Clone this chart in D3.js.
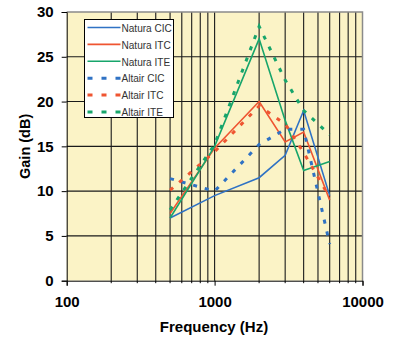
<!DOCTYPE html>
<html>
<head>
<meta charset="utf-8">
<style>
  body { margin: 0; background: #fff; }
  svg { display: block; font-family: "Liberation Sans", Arial, sans-serif; }
</style>
</head>
<body>
<svg id="chart" width="399" height="337"></svg>
<script src="https://d3js.org/d3.v7.min.js"></script>
<script>
// frequencies (Hz) and gain (dB)
const freqs = [500, 1000, 2000, 3000, 4000, 6000];
const naturaCIC = [7.0, 9.5, 11.5, 14.0, 19.0, 9.5];
const naturaITC = [7.5, 14.8, 20.0, 15.5, 16.6, 9.0];
const naturaITE = [7.0, 15.0, 27.0, 17.9, 12.3, 13.3];
const altairCIC = [11.4, 10.0, 15.2, 16.9, 16.9, 4.1];
const altairITC = [10.1, 14.4, 19.5, 17.5, 14.3, 9.3];
const altairITE = [7.9, 15.2, 28.4, 22.4, 19.0, 16.3];
const yTicks = [0, 5, 10, 15, 20, 25, 30];
const xTicks = [100, 1000, 10000];

const series = [
  { name: "Natura CIC", values: naturaCIC, color: "#2f72c4", dashed: false },
  { name: "Natura ITC", values: naturaITC, color: "#ef5531", dashed: false },
  { name: "Natura ITE", values: naturaITE, color: "#17a56b", dashed: false },
  { name: "Altair CIC", values: altairCIC, color: "#2f72c4", dashed: true },
  { name: "Altair ITC", values: altairITC, color: "#ef5531", dashed: true },
  { name: "Altair ITE", values: altairITE, color: "#17a56b", dashed: true }
];

const mLeft = 66.7, mRight = 362.5, mTop = 12, mBottom = 280.7;
const svg = d3.select("#chart");

const x = d3.scaleLog().domain([100, 10000]).range([mLeft, mRight]);
const y = d3.scaleLinear().domain([0, 30]).range([mBottom, mTop]);

// plot background
svg.append("rect")
  .attr("x", mLeft).attr("y", mTop)
  .attr("width", mRight - mLeft).attr("height", mBottom - mTop)
  .attr("fill", "#fbf3c6");

// minor frequencies for grid
const gridFreqs = [];
for (let d = 100; d < 10000; d *= 10) {
  for (let k = 2; k <= 9; k++) gridFreqs.push(d * k);
}
gridFreqs.push(1000);

svg.append("g").selectAll("line").data(gridFreqs).enter()
  .append("line")
  .attr("x1", d => x(d)).attr("x2", d => x(d))
  .attr("y1", mTop).attr("y2", mBottom)
  .attr("stroke", "#1a1a1a").attr("stroke-width", 1.1);

svg.append("g").selectAll("line").data(yTicks.slice(1, -1)).enter()
  .append("line")
  .attr("x1", mLeft).attr("x2", mRight)
  .attr("y1", d => y(d)).attr("y2", d => y(d))
  .attr("stroke", "#1a1a1a").attr("stroke-width", 1.1);

// frame top/right
svg.append("path")
  .attr("d", `M${mLeft},${mTop}H${mRight}V${mBottom}`)
  .attr("fill", "none").attr("stroke", "#8a8a8a").attr("stroke-width", 1.5);

// axes
const yAxis = d3.axisLeft(y).tickValues(yTicks).tickSize(5).tickPadding(8);
const gy = svg.append("g").attr("transform", `translate(${mLeft},0)`).call(yAxis);
gy.select(".domain").attr("stroke", "#000");
gy.selectAll("text").attr("font-size", 15).attr("font-weight", "bold").attr("fill", "#000");

const xAxis = d3.axisBottom(x).tickValues(xTicks).tickFormat(d3.format("d")).tickSize(5).tickPadding(11);
const gx = svg.append("g").attr("transform", `translate(0,${mBottom})`).call(xAxis);
gx.select(".domain").attr("stroke", "#000");
gx.selectAll("text").attr("font-size", 15).attr("font-weight", "bold").attr("fill", "#000");

// minor ticks on x axis
svg.append("g").selectAll("line").data(gridFreqs.filter(d => d !== 1000)).enter()
  .append("line")
  .attr("x1", d => x(d)).attr("x2", d => x(d))
  .attr("y1", mBottom).attr("y2", mBottom + 2.5)
  .attr("stroke", "#000");

// axis titles
svg.append("text")
  .attr("x", 214).attr("y", 332)
  .attr("text-anchor", "middle")
  .attr("font-size", 15).attr("font-weight", "bold")
  .text("Frequency (Hz)");

svg.append("text")
  .attr("transform", `translate(30,${(mTop + mBottom) / 2}) rotate(-90)`)
  .attr("text-anchor", "middle")
  .attr("font-size", 14.5).attr("font-weight", "bold")
  .text("Gain (dB)");

// lines
const line = d3.line()
  .x((d, i) => x(freqs[i]))
  .y(d => y(d));

series.forEach(s => {
  svg.append("path")
    .datum(s.values)
    .attr("d", line)
    .attr("fill", "none")
    .attr("stroke", s.color)
    .attr("stroke-width", s.dashed ? 3 : 1.6)
    .attr("stroke-dasharray", s.dashed ? "4,8" : null);
});

// legend
const lg = svg.append("g").attr("transform", "translate(84.5,19.5)");
lg.append("rect")
  .attr("width", 89).attr("height", 98)
  .attr("fill", "#fff").attr("stroke", "#000").attr("stroke-width", 1);

series.forEach((s, i) => {
  const yy = 8 + i * 16.9;
  lg.append("line")
    .attr("x1", 3).attr("x2", 36)
    .attr("y1", yy).attr("y2", yy)
    .attr("stroke", s.color)
    .attr("stroke-width", s.dashed ? 3 : 1.6)
    .attr("stroke-dasharray", s.dashed ? "5,9" : null);
  // text is a bit narrow in the original, squeeze it horizontally
  lg.append("text")
    .attr("transform", `translate(37,${yy + 4.2}) scale(0.9,1)`)
    .attr("font-size", 11.2).attr("fill", "#333")
    .text(s.name);
});
</script>
</body>
</html>
